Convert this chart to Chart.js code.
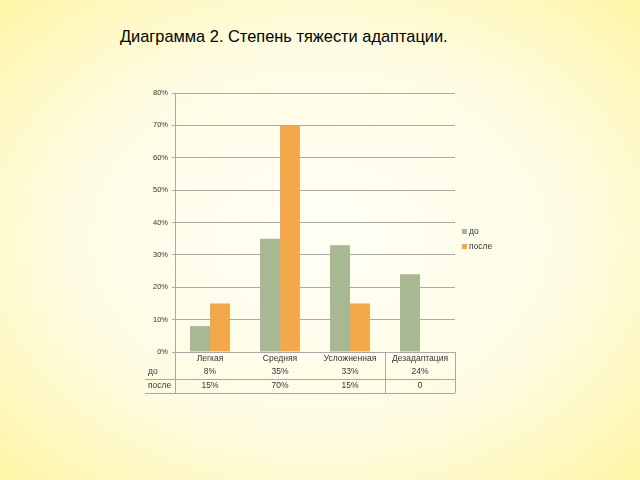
<!DOCTYPE html>
<html>
<head>
<meta charset="utf-8">
<script src="https://cdn.jsdelivr.net/npm/chart.js@4"></script>
<style>
  html, body { margin: 0; padding: 0; }
  body {
    width: 640px; height: 480px; overflow: hidden; position: relative;
    background: radial-gradient(ellipse at 50% 50%, #fffff6 0%, #fffce4 55%, #fdf5a6 100%);
  }
  #title {
    position: absolute; left: 120px; top: 27px;
    font-family: "Liberation Sans", Arial, sans-serif; font-size: 16.4px; color: #000;
    white-space: nowrap;
  }
  #wrap { position: absolute; left: 0; top: 0; width: 640px; height: 480px; }
</style>
</head>
<body>
<div id="title">Диаграмма 2. Степень тяжести адаптации.</div>
<div id="wrap"><canvas id="c" width="640" height="480"></canvas></div>
<script>
// data
const categories = ['Легкая', 'Средняя', 'Усложненная', 'Дезадаптация'];
const seriesNames = ['до', 'после'];
const doValues = [8, 35, 33, 24];
const posleValues = [15, 70, 15, 0];
const doLabels = ['8%', '35%', '33%', '24%'];
const posleLabels = ['15%', '70%', '15%', '0'];

const COLORS = {
  green: '#a7b893',
  orange: '#f3a94b',
  grid: '#a9a9a9',
  text: '#333333',
};
const FONT = '"Liberation Sans", Arial, sans-serif';

// category names, data table under the plot, legend at the right
const tablePlugin = {
  id: 'dataTable',
  afterDraw(chart) {
    const { ctx, chartArea, scales } = chart;
    const x = scales.x;
    const left = chartArea.left, right = chartArea.right, bottom = chartArea.bottom;
    const rowCat = bottom + 7, rowDo = bottom + 20, rowPosle = bottom + 34;
    const tableBottom = bottom + 41;
    ctx.save();
    ctx.strokeStyle = COLORS.grid;
    ctx.lineWidth = 1;
    ctx.beginPath();
    // horizontal rules
    ctx.moveTo(145, bottom + 27.5); ctx.lineTo(right, bottom + 27.5);
    ctx.moveTo(145, tableBottom + 0.5); ctx.lineTo(right, tableBottom + 0.5);
    // vertical rules
    ctx.moveTo(left + 0.5, chartArea.top); ctx.lineTo(left + 0.5, tableBottom);
    const w = (right - left) / categories.length;
    ctx.moveTo(Math.round(left + 3 * w) + 0.5, bottom); ctx.lineTo(Math.round(left + 3 * w) + 0.5, tableBottom);
    ctx.moveTo(right + 0.5, bottom); ctx.lineTo(right + 0.5, tableBottom);
    ctx.stroke();

    ctx.fillStyle = COLORS.text;
    ctx.font = '8.5px ' + FONT;
    ctx.textBaseline = 'middle';
    ctx.textAlign = 'left';
    ctx.fillText(seriesNames[0], 148, rowDo);
    ctx.fillText(seriesNames[1], 148, rowPosle);
    ctx.textAlign = 'center';
    categories.forEach((c, i) => {
      const px = x.getPixelForValue(i);
      ctx.fillText(c, px, rowCat);
      ctx.fillText(doLabels[i], px, rowDo);
      ctx.fillText(posleLabels[i], px, rowPosle);
    });

    // legend
    ctx.textAlign = 'left';
    chart.data.datasets.forEach((ds, i) => {
      const ly = 232 + i * 15;
      ctx.fillStyle = ds.backgroundColor;
      ctx.fillRect(462, ly - 3, 5, 5);
      ctx.fillStyle = COLORS.text;
      ctx.fillText(ds.label, 469, ly);
    });
    ctx.restore();
  },
};

new Chart(document.getElementById('c'), {
  type: 'bar',
  data: {
    labels: categories,
    datasets: [
      { label: seriesNames[0], data: doValues, backgroundColor: COLORS.green },
      { label: seriesNames[1], data: posleValues, backgroundColor: COLORS.orange },
    ],
  },
  options: {
    responsive: false,
    animation: false,
    devicePixelRatio: 1,
    categoryPercentage: 0.57,
    barPercentage: 1,
    layout: { padding: { left: 140, right: 185, top: 93, bottom: 128 } },
    plugins: {
      legend: { display: false },
      tooltip: { enabled: false },
    },
    scales: {
      x: {
        grid: { display: false },
        border: { display: false },
        ticks: { display: false },
        afterFit: (s) => { s.height = 0; },
      },
      y: {
        min: 0,
        max: 80,
        grid: { color: COLORS.grid, tickLength: 3 },
        border: { display: false },
        ticks: {
          stepSize: 10,
          color: COLORS.text,
          font: { family: FONT, size: 7.5 },
          padding: 4,
          callback: (v) => v + '%',
        },
        afterFit: (s) => { s.width = 35; },
      },
    },
  },
  plugins: [tablePlugin],
});
</script>
</body>
</html>
